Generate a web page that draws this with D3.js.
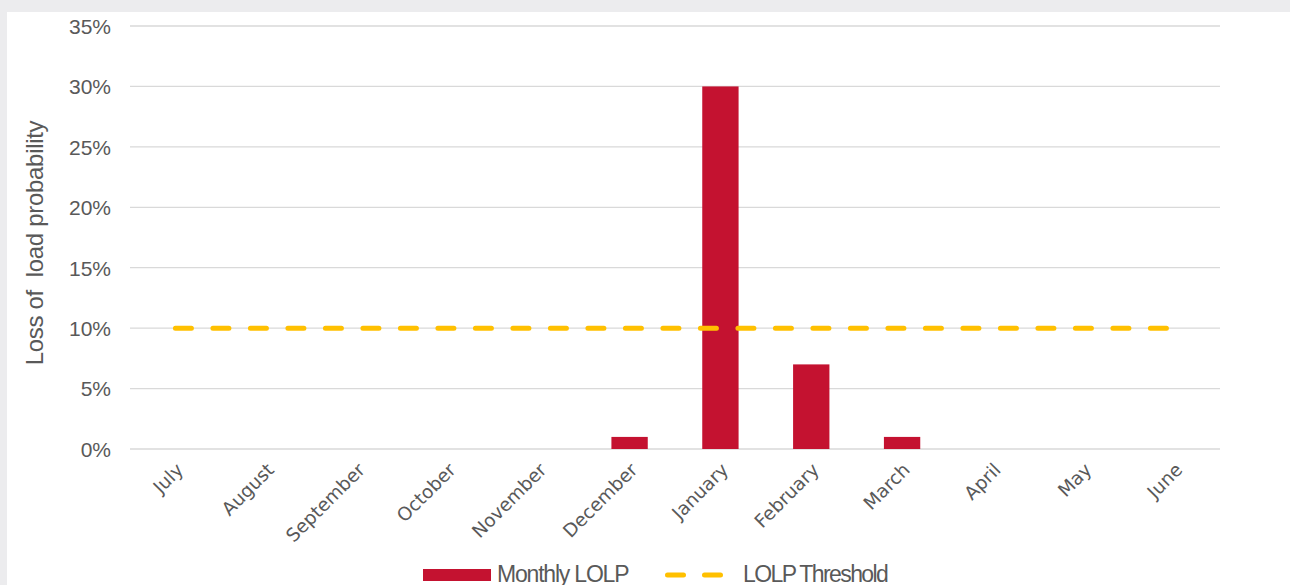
<!DOCTYPE html>
<html><head><meta charset="utf-8">
<script src="https://cdn.jsdelivr.net/npm/d3@7/dist/d3.min.js"></script>
<style>
html,body{margin:0;padding:0;background:#ececee;}
svg{display:block;}
</style></head>
<body>
<svg id="chart" width="1290" height="585"></svg>
<script>
const categories = ["July","August","September","October","November","December","January","February","March","April","May","June"];
const monthlyLOLP = [0,0,0,0,0,0.01,0.30,0.07,0.01,0,0,0];
const threshold = [0.10,0.10,0.10,0.10,0.10,0.10,0.10,0.10,0.10,0.10,0.10,0.10];
const yTicks = [0,0.05,0.10,0.15,0.20,0.25,0.30,0.35];

const svg = d3.select("#chart");
svg.append("rect").attr("x",7).attr("y",12).attr("width",1283).attr("height",573).attr("fill","#fff");

const x = d3.scaleBand().domain(categories).range([130,1220]).paddingInner(0.6).paddingOuter(0.3);
const y = d3.scaleLinear().domain([0,0.35]).range([449,26]);
const textColor = "#595959";

// gridlines
svg.append("g").selectAll("line").data(yTicks).join("line")
  .attr("x1",130).attr("x2",1220)
  .attr("y1",d=>y(d)).attr("y2",d=>y(d))
  .attr("stroke","#d9d9d9").attr("stroke-width",1.3);

// y axis labels
const yAxis = d3.axisLeft(y).tickValues(yTicks).tickFormat(d3.format(".0%")).tickSize(0).tickPadding(0);
const yg = svg.append("g").attr("transform","translate(111,0)").call(yAxis);
yg.select(".domain").remove();
yg.selectAll("text").attr("font-family","Liberation Sans, Arial, sans-serif").attr("font-size",21).attr("fill",textColor).attr("dy","0.35em");

// y title
svg.append("text").attr("transform","translate(43,243) rotate(-90)")
  .attr("text-anchor","middle").attr("font-family","Liberation Sans, Arial, sans-serif")
  .attr("font-size",24).attr("fill",textColor).attr("letter-spacing","-0.3")
  .attr("xml:space","preserve")
  .text("Loss of  load probability");

// bars
svg.append("g").selectAll("rect").data(categories.map((c,i)=>({c,v:monthlyLOLP[i]}))).join("rect")
  .attr("x",d=>x(d.c)).attr("width",x.bandwidth())
  .attr("y",d=>y(d.v)).attr("height",d=>y(0)-y(d.v))
  .attr("fill","#c41230");

// threshold line
const line = d3.line().x((d,i)=>x(categories[i])+x.bandwidth()/2).y(d=>y(d));
svg.append("path").datum(threshold).attr("d",line)
  .attr("fill","none").attr("stroke","#ffc000").attr("stroke-width",5)
  .attr("stroke-dasharray","16,21.5").attr("stroke-linecap","round");

// x labels
const xAxis = d3.axisBottom(x).tickSize(0).tickPadding(0);
const xg = svg.append("g").attr("transform","translate(0,462)").call(xAxis);
xg.select(".domain").remove();
xg.selectAll("text")
  .attr("font-family","'DejaVu Sans', sans-serif").attr("font-size",18.5).attr("fill",textColor)
  .attr("text-anchor","end").attr("dy","0").attr("y",0)
  .attr("transform","translate(9,9) rotate(-45)");

// legend
const lg = svg.append("g");
lg.append("rect").attr("x",423).attr("y",569).attr("width",68).attr("height",12).attr("fill","#c41230");
lg.append("text").attr("x",497).attr("y",582).attr("font-family","'Liberation Sans', Arial, sans-serif")
  .attr("font-size",23).attr("letter-spacing","-1.2").attr("fill",textColor).text("Monthly LOLP");
lg.append("line").attr("x1",667.5).attr("x2",723).attr("y1",575).attr("y2",575)
  .attr("stroke","#ffc000").attr("stroke-width",5).attr("stroke-dasharray","16,21").attr("stroke-linecap","round");
lg.append("text").attr("x",743).attr("y",582).attr("font-family","'Liberation Sans', Arial, sans-serif")
  .attr("font-size",23).attr("letter-spacing","-1.6").attr("fill",textColor).text("LOLP Threshold");
</script>
</body></html>
